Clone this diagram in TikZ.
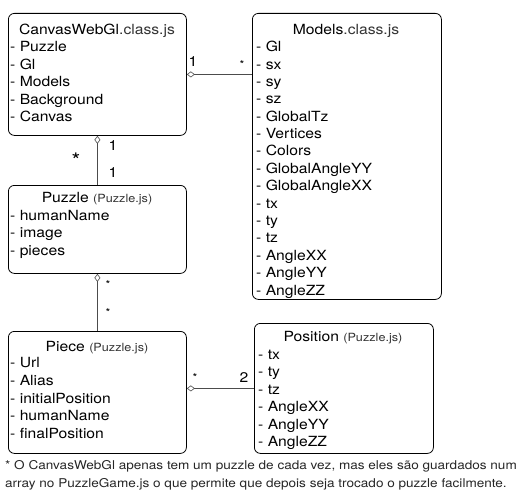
\documentclass[tikz,border=0pt]{standalone}
\usepackage{fontspec}
\setmainfont{TeX Gyre Heros}[FakeStretch=1.12]
\usetikzlibrary{arrows.meta}

\newcommand{\jsclass}{\color{black!80}}
\newcommand{\jsfile}{\fontsize{11.3}{13}\selectfont\color{black!80}}

\tikzset{
  classbox/.style={draw, line width=0.8pt, rounded corners=6pt, inner sep=0pt, anchor=north west},
  classname/.style={font=\fontsize{14}{16}\selectfont, inner sep=0pt, anchor=base},
  attr/.style={font=\fontsize{14}{16}\selectfont, inner sep=0pt, anchor=base west},
  mult/.style={font=\fontsize{14}{16}\selectfont, inner sep=0pt},
  smallmult/.style={font=\fontsize{11}{12}\selectfont, inner sep=0pt},
  assoc/.style={draw=black!70, line width=0.6pt, {Diamond[open,length=8pt,width=6pt]}-}
}

\begin{document}
\begin{tikzpicture}[x=1pt, y=-1pt]
    \useasboundingbox (0,0) rectangle (524,503);

    % CanvasWebGl
    \node[classbox, minimum width=178pt, minimum height=122pt] (canvas) at (8,13) {};
    \node[classname] (canvastitle) at (97,35) {CanvasWebGl{\jsclass .class.js}};
    \foreach \a [count=\i] in {Puzzle, Gl, Models, Background, Canvas}
        \node[attr] (canvas-\i) at (10, 51.7+17.5*\i-17.5) {- \a};

    % Models
    \node[classbox, minimum width=189pt, minimum height=286pt] (models) at (252,13) {};
    \node[classname] (modelstitle) at (346,35) {Models{\jsclass .class.js}};
    \foreach \a [count=\i] in {Gl, sx, sy, sz, GlobalTz, Vertices, Colors, GlobalAngleYY, GlobalAngleXX, tx, ty, tz, AngleXX, AngleYY, AngleZZ}
        \node[attr] (models-\i) at (256, 51.7+17.38*\i-17.38) {- \a};

    % Puzzle
    \node[classbox, minimum width=178pt, minimum height=88pt] (puzzle) at (8,185) {};
    \node[classname] (puzzletitle) at (97,202) {Puzzle {\jsfile (Puzzle.js)}};
    \foreach \a [count=\i] in {humanName, image, pieces}
        \node[attr] (puzzle-\i) at (10, 220.3+17.5*\i-17.5) {- \a};

    % Piece
    \node[classbox, minimum width=178pt, minimum height=122pt] (piece) at (8,331) {};
    \node[classname] (piecetitle) at (97,351.7) {Piece {\jsfile (Puzzle.js)}};
    \foreach \a [count=\i] in {Url, Alias, initialPosition, humanName, finalPosition}
        \node[attr] (piece-\i) at (10, 367.8+17.6*\i-17.6) {- \a};

    % Position
    \node[classbox, minimum width=179pt, minimum height=130pt] (position) at (254,323) {};
    \node[classname] (positiontitle) at (343,341.7) {Position {\jsfile (Puzzle.js)}};
    \foreach \a [count=\i] in {tx, ty, tz, AngleXX, AngleYY, AngleZZ}
        \node[attr] (position-\i) at (258, 359.3+17.5*\i-17.5) {- \a};

    % ligacoes
    \draw[assoc] (canvas.east) -- (canvas.east -| models.west);
    \draw[assoc] (canvas.south) -- (puzzle.north);
    \draw[assoc] (puzzle.south) -- (piece.north);
    \draw[assoc] (piece.east |- position.west) -- (position.west);

    % multiplicidades
    \node[mult] (m1) at (193,62) {1};
    \node[smallmult] (m2) at (242,64) {*};
    \node[mult] (m3) at (113,146) {1};
    \node[mult] (m4) at (113,173) {1};
    \node[font=\fontsize{20}{20}\selectfont, inner sep=0pt] (m5) at (76,160) {*};
    \node[smallmult] (m6) at (108,284) {*};
    \node[smallmult] (m7) at (108,312) {*};
    \node[smallmult] (m8) at (195,377) {*};
    \node[mult] (m9) at (244,378) {2};

    % nota
    \node[anchor=base west, inner sep=0pt, text=black!85, font=\fontsize{12.1}{14}\selectfont] (nota1) at (5,469.3)
        {* O CanvasWebGl apenas tem um puzzle de cada vez, mas eles são guardados num};
    \node[anchor=base west, inner sep=0pt, text=black!85, font=\fontsize{12.1}{14}\selectfont] (nota2) at (5,487.7)
        {array no PuzzleGame.js o que permite que depois seja trocado o puzzle facilmente.};
\end{tikzpicture}
\end{document}
